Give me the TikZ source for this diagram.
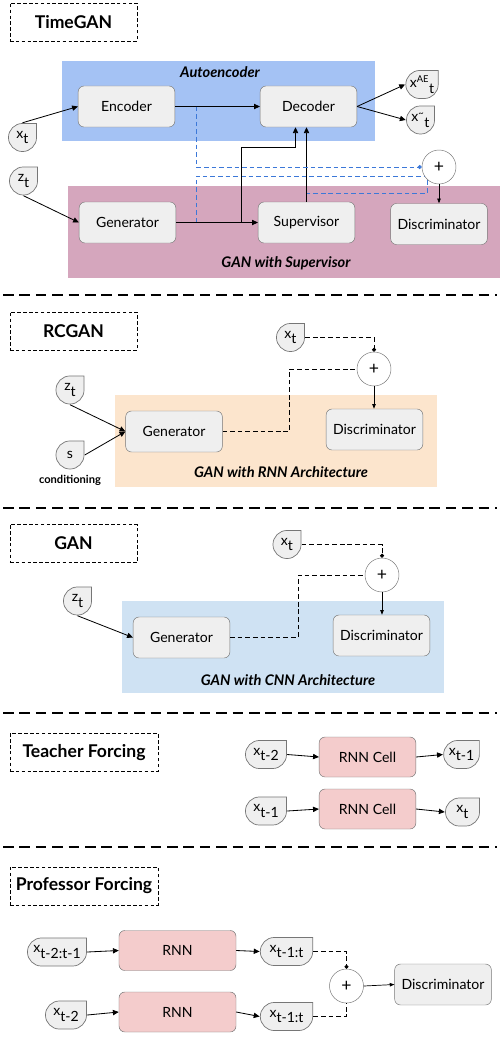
\documentclass[tikz,border=0pt]{standalone}
\usepackage{fontspec}
\setmainfont{Lato}
\usetikzlibrary{arrows.meta,positioning,calc}

\definecolor{boxfill}{HTML}{EFEFEF}
\definecolor{boxline}{HTML}{767676}
\definecolor{aeblue}{HTML}{A4C2F4}
\definecolor{suppink}{HTML}{D5A6BD}
\definecolor{rnnorange}{HTML}{FCE5CD}
\definecolor{cnnblue}{HTML}{CFE2F3}
\definecolor{cellred}{HTML}{F4CCCC}
\definecolor{linkblue}{HTML}{3C78D8}

\newcommand\lowsub[1]{\raisebox{-0.42em}{#1}}

\tikzset{
  block/.style={draw=boxline, fill=boxfill, rounded corners=5pt, minimum width=2.9cm,
    minimum height=1.23cm, font=\fontsize{12}{14}\selectfont},
  cell/.style={block, fill=cellred, minimum height=1.2cm},
  heading/.style={draw, densely dashed, minimum width=3.81cm, minimum height=1.14cm,
    font=\fontsize{15}{17}\selectfont\bfseries},
  zonelabel/.style={font=\fontsize{12.5}{14}\selectfont\bfseries\itshape},
  note/.style={font=\fontsize{9.5}{11}\selectfont\bfseries},
  datum/.style={minimum width=#1, minimum height=0.87cm, inner sep=0pt,
    font=\fontsize{12}{14}\selectfont,
    path picture={\draw[draw=boxline, fill=boxfill, line width=0.6pt, line cap=rect, rounded corners=0.42cm]
      ([shift={(-0.4pt,-0.4pt)}]path picture bounding box.north east)
      -- ([shift={(0.4pt,-0.4pt)}]path picture bounding box.north west)
      -- ([shift={(0.4pt,0.4pt)}]path picture bounding box.south west)
      -- ([shift={(-0.4pt,0.4pt)}]path picture bounding box.south east)
      -- ([shift={(-0.4pt,-0.4pt)}]path picture bounding box.north east);}},
  datum/.default=0.87cm,
  plus/.style={circle, draw=boxline, fill=white, minimum size=1.02cm, inner sep=0pt,
    font=\fontsize{15}{15}\selectfont},
  arrow/.style={-{Triangle[length=5pt,width=4.5pt]}, line width=0.7pt},
  tip/.style={-{Triangle[length=4pt,width=3pt]}, line width=0.6pt},
  feed/.style={dash pattern=on 4pt off 2.5pt, line width=0.7pt},
  dot/.style={-{Circle[length=3.5pt]}},
  divider/.style={dash pattern=on 9pt off 5pt, line width=0.9pt}
}

\begin{document}
\begin{tikzpicture}[x=0.03cm, y=-0.03cm]
\useasboundingbox (0,0) rectangle (500,1038);

% TimeGAN
\node[heading] (tgtitle) at (73.5,22) {TimeGAN};
\fill[aeblue] (62,61) rectangle (375,141);
\fill[suppink] (68,186) rectangle (500,278);
\node[zonelabel] (tgaelabel) at (220,72) {Autoencoder};
\node[zonelabel] (tgganlabel) at (286,263) {GAN with Supervisor};
\coordinate (tgsplit) at (241,222.5);
\coordinate (tgencsplit) at (196,106.5);
\coordinate (tggensplit) at (196,222.5);
\coordinate (tgsupsplit) at (306.5,193);
\coordinate (tgloop) at (427,176);
\draw[feed, linkblue] (tggensplit) |- (tgloop) |- (tgsupsplit);
\node[block] (tgenc) at (126.5,106.5) {Encoder};
\node[block] (tgdec) at (308.5,106.5) {Decoder};
\node[block] (tggen) at (127.5,222.5) {Generator};
\node[block] (tgsup) at (306.5,222.5) {Supervisor};
\node[block] (tgdis) at (439,224) {Discriminator};
\node[plus] (tgplus) at (439,167) {+};
\node[datum] (tgx) at (22.5,137.5) {x\lowsub{t}};
\node[datum] (tgz) at (23.5,181) {z\lowsub{t}};
\node[datum=1cm] (tgxae) at (422,84.5) {x\textsuperscript{AE}\lowsub{t}};
\node[datum] (tgxhat) at (420.5,120) {x\textsuperscript{\textasciitilde}\lowsub{t}};

\draw[arrow] (tgx.north) -- (tgenc.west);
\draw[arrow] (tgz.south) -- (tggen.west);
\draw[arrow] (tgenc.east) -- (tgdec.west);
\draw[arrow] (tggen.east) -- (tgsup.west);
\draw[arrow] (tgdec.east) -- (tgxae.west);
\draw[arrow] (tgdec.east) -- (tgxhat.west);
\draw[arrow] (tgsup.north) -- (tgsup.north |- tgdec.south);
\draw[arrow] (tgsplit) -- ++(0,-75) -| ([xshift=-0.39cm]tgdec.south);
\draw[feed, linkblue, dot] (tgencsplit) |- (tgplus.west);
\draw[tip] (tgplus.south) -- (tgdis.north);

\draw[divider] (3,295) -- (497,295);

% RCGAN
\node[heading] (rctitle) at (73.5,331) {RCGAN};
\fill[rnnorange] (115,395) rectangle (437,487);
\node[zonelabel] (rclabel) at (281,472) {GAN with RNN Architecture};
\node[block] (rcgen) at (174,431.5) {Generator};
\node[block] (rcdis) at (374.5,429.5) {Discriminator};
\node[plus] (rcplus) at (374,369) {+};
\node[datum] (rcz) at (70,390) {z\lowsub{t}};
\node[datum] (rcs) at (70,455) {s};
\node[note, below=1pt of rcs] (rccond) {conditioning};
\node[datum] (rcx) at (290.5,337.5) {x\lowsub{t}};

\draw[arrow] (rcz.south) -- (rcgen.west);
\draw[arrow] (rcs.east) -- (rcgen.west);
\draw[feed] (rcgen.east) -- ++(67,0) |- (rcplus.west);
\draw[feed, dot] (rcx.east) -| (rcplus.north);
\draw[tip] (rcplus.south) -- (rcplus.south |- rcdis.north);

\draw[divider] (3,508) -- (497,508);

% GAN
\node[heading] (gntitle) at (73.5,543.5) {GAN};
\fill[cnnblue] (122,601) rectangle (444,693);
\node[zonelabel] (gnlabel) at (288,680) {GAN with CNN Architecture};
\node[block] (gngen) at (181.5,637.5) {Generator};
\node[block] (gndis) at (381.5,635.5) {Discriminator};
\node[plus] (gnplus) at (382,575) {+};
\node[datum] (gnz) at (77.5,601) {z\lowsub{t}};
\node[datum] (gnx) at (287,544.5) {x\lowsub{t}};

\draw[arrow] (gnz.south) -- (gngen.west);
\draw[feed] (gngen.east) -- ++(68,0) |- (gnplus.west);
\draw[feed, dot] (gnx.east) -| (gnplus.north);
\draw[tip] (gnplus.south) -- (gnplus.south |- gndis.north);

\draw[divider] (3,713) -- (497,713);

% Teacher Forcing
\node[heading, minimum width=4.44cm] (tftitle) at (84,752.5) {Teacher Forcing};
\node[cell] (tfcella) at (367.5,757) {RNN Cell};
\node[cell] (tfcellb) at (367.5,809) {RNN Cell};
\node[datum=1.26cm] (tfina) at (266,754.5) {x\lowsub{t-2}};
\node[datum=1.1cm] (tfouta) at (461.5,754.5) {x\lowsub{t-1}};
\node[datum=1.26cm] (tfinb) at (266,811) {x\lowsub{t-1}};
\node[datum=1.05cm] (tfoutb) at (462.5,812) {x\lowsub{t}};

\draw[arrow] (tfina.east) -- (tfcella.west);
\draw[arrow] (tfcella.east) -- (tfouta.west);
\draw[arrow] (tfinb.east) -- (tfcellb.west);
\draw[arrow] (tfcellb.east) -- (tfoutb.west);

\draw[divider] (3,847) -- (497,847);

% Professor Forcing
\node[heading, minimum width=4.44cm] (pftitle) at (84,886) {Professor Forcing};
\node[cell, minimum width=3.51cm] (pfrnna) at (177.5,950.5) {RNN};
\node[cell, minimum width=3.51cm] (pfrnnb) at (177.5,1012) {RNN};
\node[datum=1.8cm] (pfina) at (57,952) {x\lowsub{t-2:t-1}};
\node[datum=1.26cm] (pfinb) at (66,1015) {x\lowsub{t-2}};
\node[datum=1.6cm] (pfouta) at (286.5,951.5) {x\lowsub{t-1:t}};
\node[datum=1.6cm] (pfoutb) at (286.5,1016.5) {x\lowsub{t-1:t}};
\node[plus] (pfplus) at (346.5,986) {+};
\node[block] (pfdis) at (443,984.5) {Discriminator};

\draw[arrow] (pfina.east) -- (pfrnna.west);
\draw[arrow] (pfinb.east) -- (pfrnnb.west);
\draw[arrow] (pfrnna.east) -- (pfouta.west);
\draw[arrow] (pfrnnb.east) -- (pfoutb.west);
\draw[feed, dot] (pfouta.east) -| (pfplus.north);
\draw[feed] (pfoutb.east) -| (pfplus.south);
\draw[tip] (pfplus.east) -- (pfdis.west);
\end{tikzpicture}
\end{document}
